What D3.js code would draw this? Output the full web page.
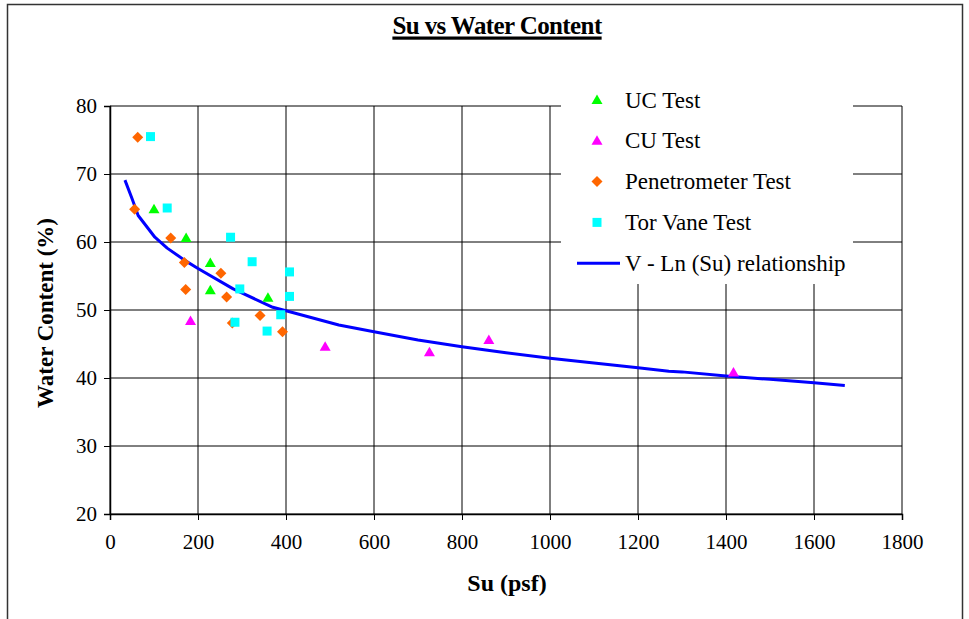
<!DOCTYPE html>
<html>
<head>
<meta charset="utf-8">
<script src="https://cdn.jsdelivr.net/npm/d3@7"></script>
<style>
  html, body { margin: 0; padding: 0; background: #fff; }
  svg { display: block; }
  text { font-family: "Liberation Serif", "Times New Roman", serif; fill: #000; }
</style>
</head>
<body>
<svg id="chart" width="969" height="619"></svg>
<script>
// ---- data ----
const xTicks = [0, 200, 400, 600, 800, 1000, 1200, 1400, 1600, 1800];
const yTicks = [20, 30, 40, 50, 60, 70, 80];

const ucTest = [[100, 64.8], [173, 60.6], [228, 56.9], [228, 52.9], [359, 51.8]];
const cuTest = [[183, 48.4], [489, 44.6], [726, 43.8], [861, 45.6], [1417, 40.8]];
const penTest = [[63, 75.4], [56, 64.8], [138, 60.6], [169, 57.0], [172, 53.0], [252, 55.4],
                 [265, 51.9], [341, 49.2], [278, 48.1], [392, 46.8]];
const torTest = [[92, 75.5], [130, 65.0], [274, 60.7], [323, 57.1], [408, 55.6], [295, 53.1],
                 [408, 52.0], [388, 49.3], [284, 48.2], [357, 46.9]];
const vlnCurve = [[34, 69.1], [50, 66.4], [64, 63.9], [102, 60.7], [130, 59.1], [170, 57.3],
                  [200, 56.1], [280, 53.1], [370, 50.4], [400, 49.9], [480, 48.5], [520, 47.8],
                  [600, 46.8], [700, 45.6], [800, 44.6], [900, 43.7], [1000, 42.9], [1100, 42.2],
                  [1200, 41.5], [1270, 41.0], [1300, 40.9], [1400, 40.3], [1500, 39.8],
                  [1600, 39.3], [1670, 38.9]];

const legendItems = [
  { name: "UC Test", type: "tri", color: "#00FF00" },
  { name: "CU Test", type: "tri", color: "#FF00FF" },
  { name: "Penetrometer Test", type: "dia", color: "#FF6600" },
  { name: "Tor Vane Test", type: "sq", color: "#00FFFF" },
  { name: "V - Ln (Su) relationship", type: "line", color: "#0000FF" }
];

// ---- layout ----
const svg = d3.select("#chart");
const plot = { left: 110, right: 902, top: 106, bottom: 514 };
const x = d3.scaleLinear().domain([0, 1800]).range([plot.left, plot.right]);
const y = d3.scaleLinear().domain([20, 80]).range([plot.bottom, plot.top]);

// outer border
svg.append("rect").attr("x", 7.5).attr("y", 4.5).attr("width", 955).attr("height", 640)
  .attr("fill", "none").attr("stroke", "#333").attr("stroke-width", 1.5);

// title
const title = svg.append("text").attr("x", 497).attr("y", 34).attr("text-anchor", "middle")
  .attr("font-weight", "bold").attr("font-size", 25).attr("letter-spacing", -0.6)
  .text("Su vs Water Content");
const tw = title.node().getComputedTextLength();
svg.append("rect").attr("x", 497 - tw / 2).attr("y", 36.5).attr("width", tw).attr("height", 3.2)
  .attr("fill", "#000");

// gridlines
const grid = svg.append("g");
grid.selectAll(".gx").data(xTicks).join("line")
  .attr("x1", d => x(d)).attr("x2", d => x(d))
  .attr("y1", plot.top).attr("y2", plot.bottom)
  .attr("stroke", "#000").attr("stroke-width", 1);
grid.selectAll(".gy").data(yTicks).join("line")
  .attr("x1", plot.left).attr("x2", plot.right)
  .attr("y1", d => y(d)).attr("y2", d => y(d))
  .attr("stroke", "#000").attr("stroke-width", 1);

// axes
const xAxis = d3.axisBottom(x).tickValues(xTicks).tickSize(6).tickPadding(14).tickFormat(d3.format("d"));
const yAxis = d3.axisLeft(y).tickValues(yTicks).tickSize(6).tickPadding(7).tickFormat(d3.format("d"));
const gx = svg.append("g").attr("transform", `translate(0,${plot.bottom})`).call(xAxis);
const gy = svg.append("g").attr("transform", `translate(${plot.left},0)`).call(yAxis);
[gx, gy].forEach(g => {
  g.select(".domain").attr("stroke", "#000").attr("stroke-width", 1.5);
  g.selectAll(".tick line").attr("stroke", "#000");
  g.selectAll("text").attr("font-size", 21).attr("fill", "#000");
});

// axis titles
svg.append("text").attr("x", 507).attr("y", 591).attr("text-anchor", "middle")
  .attr("font-weight", "bold").attr("font-size", 24).text("Su (psf)");
svg.append("text").attr("transform", "translate(53,313) rotate(-90)").attr("text-anchor", "middle")
  .attr("font-weight", "bold").attr("font-size", 23).text("Water Content (%)");

// legend box (white, no border) drawn over gridlines
svg.append("rect").attr("x", 561).attr("y", 78).attr("width", 292).attr("height", 206).attr("fill", "#fff");

// marker path generators
function markerPath(type) {
  if (type === "tri") return "M0,-5.5L5.5,4L-5.5,4Z";
  if (type === "dia") return "M0,-5.5L5.5,0L0,5.5L-5.5,0Z";
  return "M-4.5,-4.5H4.5V4.5H-4.5Z";
}

// curve
const line = d3.line().x(d => x(d[0])).y(d => y(d[1]));
svg.append("path").datum(vlnCurve).attr("d", line).attr("fill", "none")
  .attr("stroke", "#0000FF").attr("stroke-width", 3).attr("stroke-linejoin", "round");

// scatter series
const seriesList = [
  { data: ucTest, item: legendItems[0] },
  { data: cuTest, item: legendItems[1] },
  { data: penTest, item: legendItems[2] },
  { data: torTest, item: legendItems[3] }
];
seriesList.forEach(s => {
  svg.append("g").selectAll("path").data(s.data).join("path")
    .attr("transform", d => `translate(${x(d[0])},${y(d[1])})`)
    .attr("d", markerPath(s.item.type)).attr("fill", s.item.color);
});

// legend
const lg = svg.append("g");
legendItems.forEach((it, i) => {
  const cy = 100 + i * 40.8;
  if (it.type === "line") {
    lg.append("line").attr("x1", 577).attr("x2", 620).attr("y1", cy).attr("y2", cy)
      .attr("stroke", it.color).attr("stroke-width", 3);
  } else {
    lg.append("path").attr("transform", `translate(597,${cy})`).attr("d", markerPath(it.type))
      .attr("fill", it.color);
  }
  lg.append("text").attr("x", 625).attr("y", cy + 7.5).attr("font-size", 23).text(it.name);
});
</script>
</body>
</html>
